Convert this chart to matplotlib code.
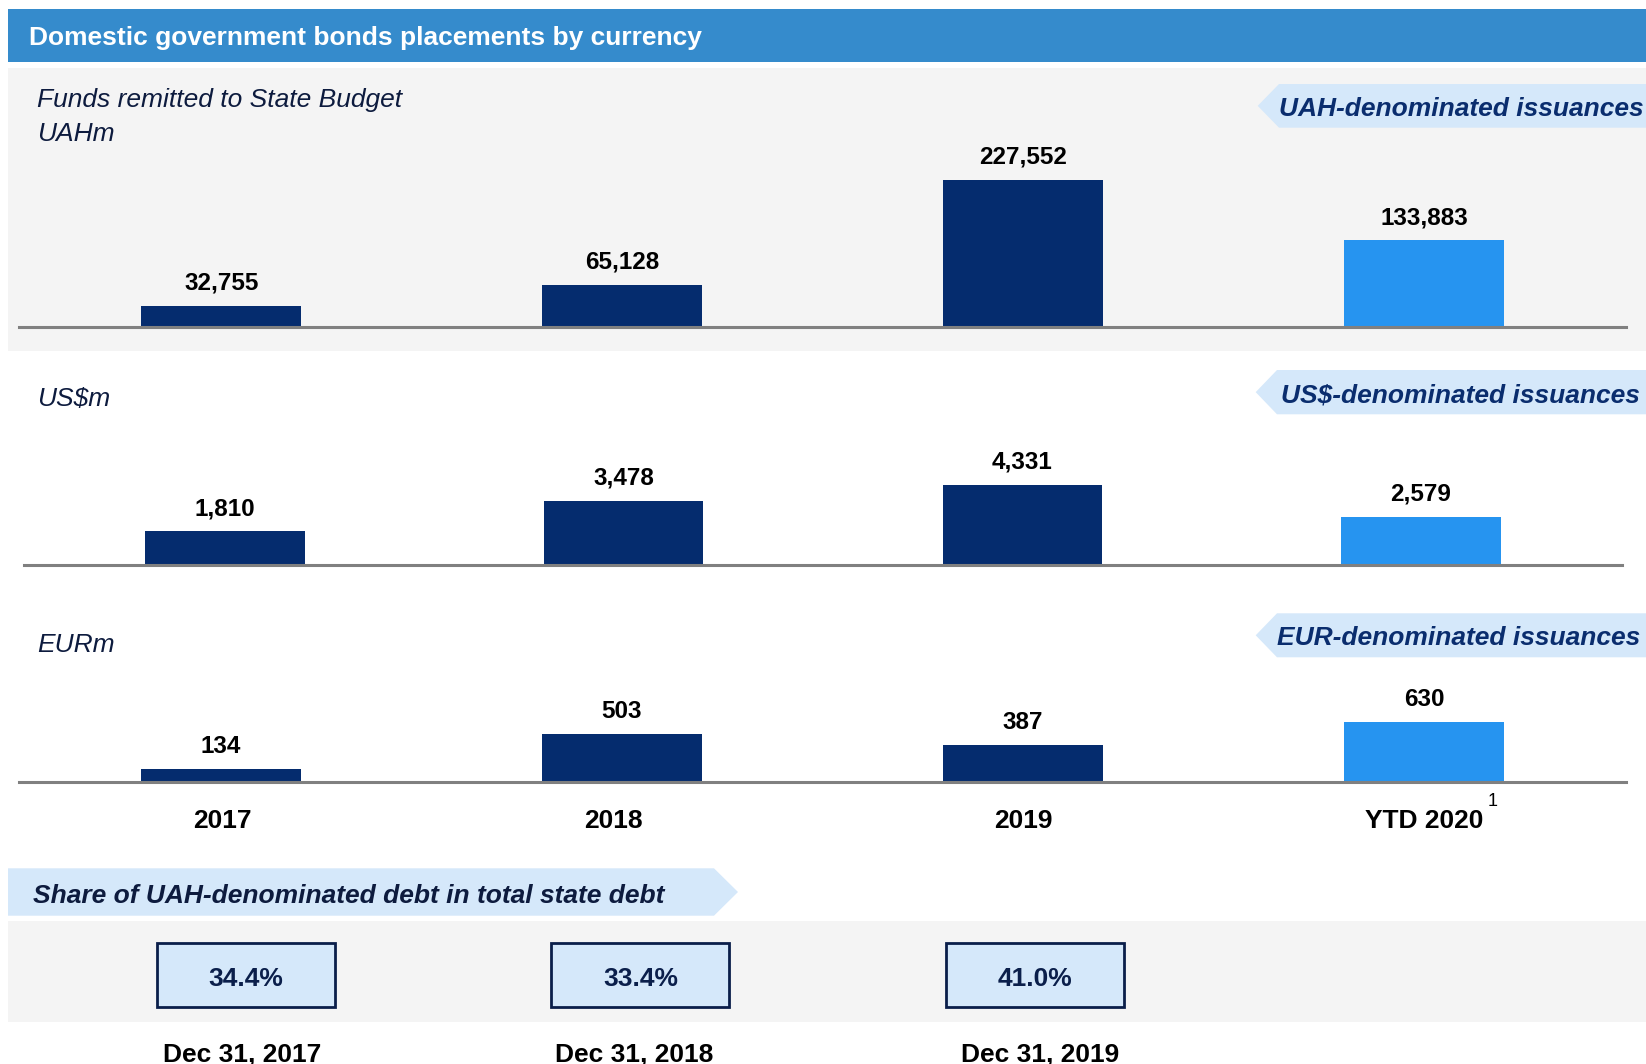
import matplotlib
matplotlib.use('Agg')
import matplotlib.pyplot as plt
from matplotlib.patches import Rectangle, Polygon

plt.rcParams['font.family'] = 'Liberation Sans'

# data
years = ['2017', '2018', '2019', 'YTD 2020']
uah_vals = [32755, 65128, 227552, 133883]
usd_vals = [1810, 3478, 4331, 2579]
eur_vals = [134, 503, 387, 630]
share_dates = ['Dec 31, 2017', 'Dec 31, 2018', 'Dec 31, 2019']
share_vals = [34.4, 33.4, 41.0]

NAVY = '#052C6E'
BRIGHT = '#2694F0'
HEADER = '#358BCC'
PANEL = '#F4F4F4'
TAG = '#D5E8FA'
TAG_TEXT = '#0A2D6E'
UNIT_TEXT = '#0D1B3E'
BASE = '#808080'

W, H = 1646, 1064
fig = plt.figure(figsize=(W / 100, H / 100), dpi=100)

# pixel-space background layer
bg = fig.add_axes([0, 0, 1, 1], zorder=0)
bg.set_xlim(0, W)
bg.set_ylim(H, 0)
bg.axis('off')

# header bar
bg.add_patch(Rectangle((8, 9), W, 52.5, color=HEADER, lw=0))
bg.text(29.5, 38, 'Domestic government bonds placements by currency',
        color='white', fontsize=19, fontweight='bold', va='center', ha='left')

# gray panels
bg.add_patch(Rectangle((8, 68.3), W, 282.5, color=PANEL, lw=0))
bg.add_patch(Rectangle((8, 921), W, 100.7, color=PANEL, lw=0))

# unit labels
unit_kw = dict(color=UNIT_TEXT, fontsize=19, fontstyle='italic', va='center', ha='left')
bg.text(37.5, 100.5, 'Funds remitted to State Budget', **unit_kw)
bg.text(37.5, 134, 'UAHm', **unit_kw)
bg.text(37.5, 398.5, 'US$m', **unit_kw)
bg.text(37.5, 645.5, 'EURm', **unit_kw)


def left_tag(x_pt, x_body, y0, y1, label, x_text):
    ym = (y0 + y1) / 2
    bg.add_patch(Polygon([(x_pt, ym), (x_body, y0), (W + 10, y0),
                          (W + 10, y1), (x_body, y1)], closed=True,
                         color=TAG, lw=0))
    bg.text(x_text, ym + 3, label, color=TAG_TEXT, fontsize=19,
            fontweight='bold', fontstyle='italic', va='center', ha='left')


left_tag(1257.7, 1279, 84, 127.7, 'UAH-denominated issuances', 1279)
left_tag(1255.7, 1277, 370, 414.3, 'US$-denominated issuances', 1281)
left_tag(1255.7, 1277, 613.3, 657.3, 'EUR-denominated issuances', 1277.5)


def bar_panel(values, x0, x1, base_y, max_px):
    top = max(values)
    ax = fig.add_axes([x0 / W, 1 - base_y / H, (x1 - x0) / W, max_px * 1.3 / H],
                      zorder=1)
    ax.patch.set_alpha(0)
    colors = [NAVY] * (len(values) - 1) + [BRIGHT]
    ax.bar(range(len(values)), values, width=0.4, color=colors, zorder=1)
    ax.set_xlim(-0.5035, 3.5035)
    ax.set_ylim(0, top * 1.3)
    for s in ['top', 'left', 'right']:
        ax.spines[s].set_visible(False)
    ax.spines['bottom'].set_color(BASE)
    ax.spines['bottom'].set_linewidth(2.2)
    ax.spines['bottom'].set_zorder(3)
    ax.set_xticks([])
    ax.set_yticks([])
    for i, v in enumerate(values):
        ax.annotate(f'{v:,}', (i, v), xytext=(0, 11.7), textcoords='offset points',
                    ha='center', va='baseline', fontsize=17.5, fontweight='bold',
                    color='black')
    return ax


bar_panel(uah_vals, 19.3, 1626, 327.3, 147.8)
bar_panel(usd_vals, 24.1, 1621.8, 564.7, 79.8)
ax3 = bar_panel(eur_vals, 18.9, 1626, 782, 59.8)

# category labels under the last panel
year_dx = [1, -6, 0, 0]
for i, yr in enumerate(years):
    ax3.annotate(yr, (i, 0), xytext=(year_dx[i], -33.3), textcoords='offset points',
                 ha='center', va='baseline', fontsize=19, fontweight='bold',
                 color='black')
bg.text(1492.7, 801, '1', fontsize=13, color='black', ha='center', va='center')

# share of UAH debt
bg.add_patch(Polygon([(8, 868.3), (714, 868.3), (738, 892), (714, 915.7), (8, 915.7)],
                     closed=True, color=TAG, lw=0))
bg.text(33, 896, 'Share of UAH-denominated debt in total state debt',
        color=UNIT_TEXT, fontsize=19, fontweight='bold', fontstyle='italic',
        va='center', ha='left')

box_x0 = 157
box_step = 394.4
box_w, box_h = 178, 64.5
date_dx = [-4, -6, 5]
for i, (d, v) in enumerate(zip(share_dates, share_vals)):
    x = box_x0 + i * box_step
    bg.add_patch(Rectangle((x, 942.5), box_w, box_h, facecolor=TAG,
                           edgecolor='#0A1E4A', lw=2))
    bg.text(x + box_w / 2, 979, f'{v:.1f}%', fontsize=19, fontweight='bold',
            color='#0B1F4B', ha='center', va='center')
    bg.text(x + box_w / 2 + date_dx[i], 1055, d, fontsize=19, fontweight='bold',
            color='black', ha='center', va='center')

fig.savefig('out.png', dpi=100)
